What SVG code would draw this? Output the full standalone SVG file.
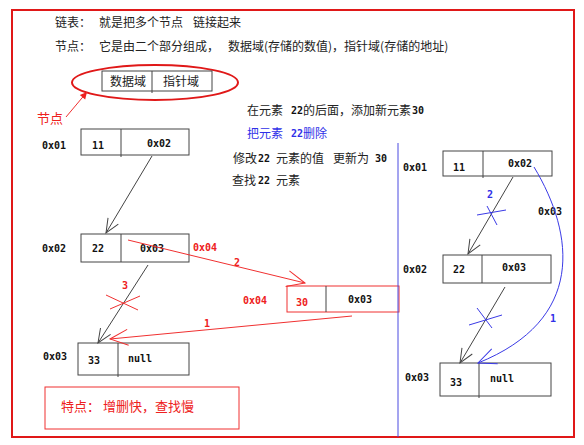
<svg xmlns="http://www.w3.org/2000/svg" width="584" height="445" viewBox="0 0 584 445">
<style>
.cn{font-family:"Noto Sans CJK SC","Noto Sans",sans-serif;font-size:12px;fill:#222}
.mono{font-family:"DejaVu Sans Mono","Liberation Mono",monospace;font-size:10px;font-weight:bold;fill:#111}
.red{fill:#ee2020}
.blue{fill:#3030e8}
.box{fill:#fff;stroke:#444;stroke-width:1}
.div{stroke:#444;stroke-width:1}
.lk{fill:none;stroke:#444;stroke-width:1}
.lr{fill:none;stroke:#f03030;stroke-width:1}
.lb{fill:none;stroke:#3a3ae6;stroke-width:1}
</style>
<defs>
<marker id="ak" markerUnits="userSpaceOnUse" orient="auto" refX="0" refY="0" markerWidth="30" markerHeight="30" overflow="visible"><path d="M-14,-6 L0,0 L-14,6" fill="none" stroke="#444" stroke-width="1"/></marker>
<marker id="ar" markerUnits="userSpaceOnUse" orient="auto" refX="0" refY="0" markerWidth="30" markerHeight="30" overflow="visible"><path d="M-18,-8 L0,0 L-18,8" fill="none" stroke="#f03030" stroke-width="1"/></marker>
<marker id="ab" markerUnits="userSpaceOnUse" orient="auto" refX="0" refY="0" markerWidth="30" markerHeight="30" overflow="visible"><path d="M-18,-8 L0,0 L-18,8" fill="none" stroke="#3a3ae6" stroke-width="1"/></marker>
<marker id="af" markerUnits="userSpaceOnUse" orient="auto" refX="0" refY="0" markerWidth="20" markerHeight="20" overflow="visible"><path d="M-7,-3.5 L0,0 L-7,3.5 Z" fill="#ee2020"/></marker>
</defs>
<rect width="584" height="445" fill="#fff"/>
<rect x="12" y="10" width="562" height="427" fill="none" stroke="#e01818" stroke-width="2"/>

<g id="header">
<text class="cn" x="55" y="27">链表：</text>
<text class="cn" x="99" y="27">就是把多个节点</text>
<text class="cn" x="193" y="27">链接起来</text>
<text class="cn" x="55" y="51">节点：</text>
<text class="cn" x="99" y="51">它是由二个部分组成，</text>
<text class="cn" x="228" y="51">数据域(存储的数值)，指针域(存储的地址)</text>
</g>

<g id="node-legend">
<ellipse cx="155" cy="82.5" rx="83" ry="17.5" fill="none" stroke="#e01818" stroke-width="2"/>
<rect class="box" x="102" y="71" width="110" height="20"/>
<line class="div" x1="152" y1="71" x2="152" y2="93"/>
<text class="cn" x="110" y="85.5">数据域</text>
<text class="cn" x="163" y="85.5">指针域</text>
<text class="cn red" x="37" y="123" style="font-size:13px">节点</text>
</g>

<g id="notes">
<text class="cn" x="247" y="114.5">在元素</text><text class="mono" x="291" y="114">22</text><text class="cn" x="303" y="114.5">的后面，添加新元素</text><text class="mono" x="412" y="114">30</text>
<text class="cn blue" x="247" y="137.5">把元素</text><text class="mono blue" x="291" y="137">22</text><text class="cn blue" x="303" y="137.5">删除</text>
<text class="cn" x="233" y="162.5">修改</text><text class="mono" x="258" y="162">22</text><text class="cn" x="276" y="162.5">元素的值</text><text class="cn" x="333" y="162.5">更新为</text><text class="mono" x="375" y="162">30</text>
<text class="cn" x="232" y="184.5">查找</text><text class="mono" x="258" y="184">22</text><text class="cn" x="276" y="184.5">元素</text>
</g>

<g id="left-n1">
<text class="mono" x="42" y="148.6">0x01</text>
<rect class="box" x="81" y="129" width="108" height="26"/>
<line class="div" x1="121" y1="129" x2="121" y2="157"/>
<text class="mono" x="92" y="148.6">11</text>
<text class="mono" x="147" y="146.6">0x02</text>
</g>

<g id="left-n2">
<text class="mono" x="42" y="251.6">0x02</text>
<rect class="box" x="81" y="234" width="108" height="28"/>
<line class="div" x1="121" y1="234" x2="121" y2="262"/>
<text class="mono" x="92" y="251.6">22</text>
<text class="mono" x="140" y="251.6">0x03</text>
<text class="mono red" x="193" y="250.6">0x04</text>
</g>

<g id="left-n4">
<text class="mono red" x="243" y="303.6">0x04</text>
<rect x="287" y="286" width="112" height="26" fill="#fff" stroke="#f03030" stroke-width="1"/>
<line x1="326" y1="286" x2="326" y2="312" stroke="#444" stroke-width="1"/>
<text class="mono red" x="296" y="305.6">30</text>
<text class="mono" x="348" y="302.6">0x03</text>
</g>

<g id="left-n3">
<text class="mono" x="43" y="359.6">0x03</text>
<rect class="box" x="78" y="343" width="111" height="32"/>
<line class="div" x1="118" y1="343" x2="118" y2="377"/>
<text class="mono" x="88" y="363.6">33</text>
<text class="mono" x="128" y="361.6">null</text>
</g>

<g id="feature">
<rect x="45" y="387" width="194" height="42" fill="none" stroke="#f03030" stroke-width="1"/>
<text class="cn red" x="61" y="411" style="font-size:13px">特点：  增删快，查找慢</text>
</g>

<g id="right-n1">
<text class="mono" x="403" y="170.6">0x01</text>
<rect class="box" x="443" y="151" width="109" height="25"/>
<line class="div" x1="483" y1="151" x2="483" y2="178"/>
<text class="mono" x="453" y="170.6">11</text>
<text class="mono" x="508" y="166.6">0x02</text>
</g>

<g id="right-n2">
<text class="mono" x="403" y="272.6">0x02</text>
<rect class="box" x="443" y="255" width="108" height="28"/>
<line class="div" x1="482" y1="255" x2="482" y2="283"/>
<text class="mono" x="453" y="272.6">22</text>
<text class="mono" x="502" y="270.6">0x03</text>
</g>

<g id="right-n3">
<text class="mono" x="405" y="380.6">0x03</text>
<rect class="box" x="440" y="363" width="111" height="33"/>
<line class="div" x1="479" y1="363" x2="479" y2="398"/>
<text class="mono" x="450" y="385.6">33</text>
<text class="mono" x="490" y="381.6">null</text>
</g>

<g id="connectors">
<line class="lr" x1="66" y1="117" x2="87" y2="92" marker-end="url(#af)"/>
<line class="lk" x1="152" y1="156" x2="106" y2="233" marker-end="url(#ak)"/>
<line class="lk" x1="148" y1="265" x2="98" y2="343" marker-end="url(#ak)"/>
<path class="lr" d="M106,295 L138,310 M110,309 L140,296"/>
<text class="mono red" x="122" y="288.6">3</text>
<line class="lr" x1="128" y1="240" x2="305" y2="283" marker-end="url(#ar)"/>
<text class="mono red" x="234" y="265.6">2</text>
<line class="lr" x1="352" y1="316" x2="110" y2="339" marker-end="url(#ar)"/>
<text class="mono red" x="204" y="326.6">1</text>
<line x1="398" y1="143" x2="398" y2="437" stroke="#4a4ae0" stroke-width="1"/>
<line class="lk" x1="513" y1="177" x2="468" y2="254" marker-end="url(#ak)"/>
<path class="lb" d="M477,215 L506,210 M487,206 L497,225"/>
<text class="mono blue" x="487" y="197.6">2</text>
<text class="mono" x="538" y="214.6">0x03</text>
<line class="lk" x1="505" y1="287" x2="460" y2="363" marker-end="url(#ak)"/>
<path class="lb" d="M469,325 L502,315 M477,308 L492,328"/>
<path class="lb" d="M534,167 C575,235 585,320 478,363" marker-end="url(#ab)"/>
<text class="mono blue" x="550" y="321.6">1</text>
</g>
</svg>
